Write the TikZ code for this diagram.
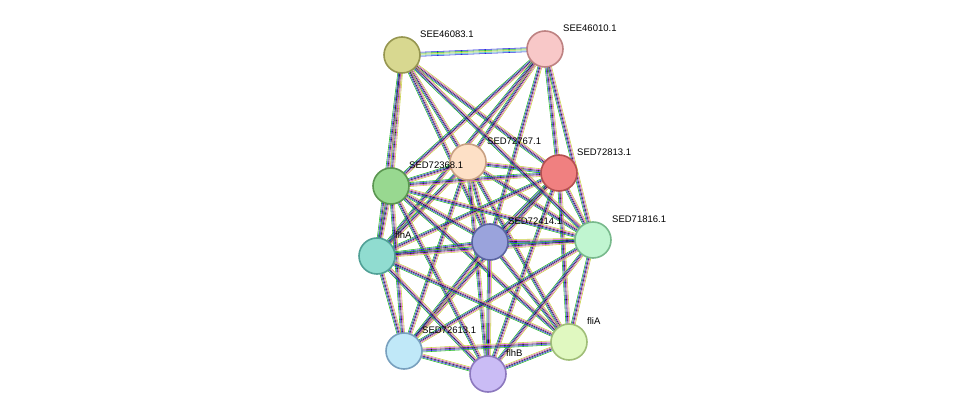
\documentclass[tikz,border=0pt]{standalone}
\usepackage{fontspec}
\setmainfont{Liberation Sans}
\usetikzlibrary{calc}
\definecolor{tg}{HTML}{1FB81F}
\definecolor{tb}{HTML}{2626E0}
\definecolor{tm}{HTML}{D040D0}
\definecolor{ty}{HTML}{C8D040}
\definecolor{tk}{HTML}{202020}
\definecolor{tc}{HTML}{40C0C0}
\newcommand\edg[3]{\foreach[count=\i] \c in {#3}{\pgfmathsetmacro\off{(\i-3)*1.0}\draw[\c,line width=0.55pt] ($(#1)!\off pt!90:(#2)$) -- ($(#2)!\off pt!-90:(#1)$);}}
\tikzset{prot/.style={circle,minimum size=36pt,line width=1.6pt,inner sep=0pt},
lab/.style={font=\fontsize{9.5}{10}\selectfont,inner sep=1pt,anchor=south west}}
\begin{document}
\begin{tikzpicture}[x=1pt,y=-1pt]
\useasboundingbox (0,0) rectangle (975,419);
\fill[white] (0,0) rectangle (975,419);
\coordinate (a) at (402,55);
\coordinate (b) at (545,49);
\coordinate (c) at (468,162);
\coordinate (d) at (559,173);
\coordinate (e) at (391,186);
\coordinate (f) at (490,242);
\coordinate (g) at (593,240);
\coordinate (h) at (377,256);
\coordinate (i) at (404,351);
\coordinate (j) at (488,374);
\coordinate (k) at (569,342);
\foreach \p/\q in {a/c,a/d,a/e,a/f,a/h,b/c,b/d,b/e,b/f,b/h,b/g,c/d,c/e,c/f,c/h,c/i,c/j,c/k,c/g,d/e,d/f,d/g,d/h,d/i,d/j,d/k,e/f,e/h,e/i,e/j,e/k,e/g,f/g,f/h,f/i,f/j,f/k,g/h,g/i,g/j,g/k,h/i,h/j,h/k,i/j,i/k,j/k,a/g}{\edg{\p}{\q}{tg,tb,tk,tm,ty}}
\edg{a}{b}{tb,tc,ty,tg,tb}
\node[prot,fill={rgb,255:red,216;green,216;blue,144},draw={rgb,255:red,150;green,150;blue,80}] (na) at (a) {};
\node[prot,fill={rgb,255:red,248;green,200;blue,200},draw={rgb,255:red,190;green,130;blue,130}] (nb) at (b) {};
\node[prot,fill={rgb,255:red,253;green,224;blue,198},draw={rgb,255:red,200;green,160;blue,130}] (nc) at (c) {};
\node[prot,fill={rgb,255:red,240;green,128;blue,128},draw={rgb,255:red,180;green,80;blue,80}] (nd) at (d) {};
\node[prot,fill={rgb,255:red,152;green,216;blue,144},draw={rgb,255:red,90;green,150;blue,80}] (ne) at (e) {};
\node[prot,fill={rgb,255:red,154;green,163;blue,220},draw={rgb,255:red,90;green,100;blue,160}] (nf) at (f) {};
\node[prot,fill={rgb,255:red,192;green,245;blue,208},draw={rgb,255:red,120;green,185;blue,140}] (ng) at (g) {};
\node[prot,fill={rgb,255:red,144;green,220;blue,208},draw={rgb,255:red,80;green,160;blue,150}] (nh) at (h) {};
\node[prot,fill={rgb,255:red,192;green,232;blue,248},draw={rgb,255:red,120;green,160;blue,190}] (ni) at (i) {};
\node[prot,fill={rgb,255:red,202;green,188;blue,245},draw={rgb,255:red,140;green,120;blue,190}] (nj) at (j) {};
\node[prot,fill={rgb,255:red,224;green,248;blue,192},draw={rgb,255:red,160;green,190;blue,120}] (nk) at (k) {};
\node[lab] at (419,39) {SEE46083.1};
\node[lab] at (562,33) {SEE46010.1};
\node[lab] at (486,146) {SED72767.1};
\node[lab] at (576,157) {SED72813.1};
\node[lab] at (408,170) {SED72368.1};
\node[lab] at (507,226) {SED72414.1};
\node[lab] at (611,224) {SED71816.1};
\node[lab] at (394,240) {flhA};
\node[lab] at (421,335) {SED72613.1};
\node[lab] at (505,358) {flhB};
\node[lab] at (586,326) {fliA};
\end{tikzpicture}
\end{document}
